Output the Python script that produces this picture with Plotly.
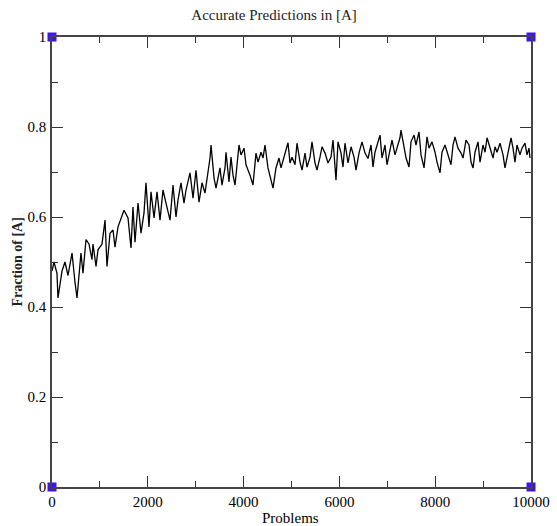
import plotly.graph_objects as go

# Problems (x) and fraction of [A] (y)
problems = [0, 42, 104, 125, 209, 271, 334, 418, 480, 522, 605, 647, 710, 772, 835, 856, 919, 960,
            1044, 1107, 1148, 1211, 1274, 1315, 1378, 1462, 1503, 1587, 1649, 1691, 1733, 1796,
            1858, 1921, 1962, 2025, 2067, 2130, 2192, 2255, 2317, 2380, 2464, 2526, 2589, 2631,
            2693, 2756, 2798, 2881, 2944, 3006, 3069, 3132, 3194, 3257, 3299, 3320, 3382, 3424,
            3507, 3549, 3612, 3633, 3695, 3737, 3779, 3821, 3904, 3946, 4009, 4050, 4134, 4196,
            4259, 4301, 4363, 4405, 4447, 4509, 4572, 4614, 4676, 4739, 4781, 4864, 4927, 4969,
            5011, 5073, 5115, 5178, 5220, 5282, 5324, 5387, 5428, 5491, 5532, 5595, 5637, 5700,
            5762, 5825, 5867, 5929, 5971, 6034, 6075, 6117, 6180, 6243, 6305, 6347, 6409, 6472,
            6535, 6597, 6660, 6701, 6743, 6806, 6848, 6890, 6952, 6994, 7056, 7098, 7161, 7203,
            7265, 7286, 7349, 7391, 7453, 7495, 7558, 7599, 7662, 7704, 7767, 7829, 7871, 7934,
            7996, 8038, 8100, 8142, 8205, 8267, 8330, 8372, 8413, 8476, 8539, 8581, 8643, 8706,
            8748, 8790, 8831, 8894, 8936, 8998, 9040, 9082, 9144, 9207, 9249, 9291, 9353, 9416,
            9457, 9520, 9583, 9624, 9666, 9708, 9770, 9812, 9875, 9916, 9958, 9979]
fraction = [0.48, 0.50, 0.475, 0.42, 0.48, 0.50, 0.47, 0.52, 0.455, 0.42, 0.52, 0.475, 0.55, 0.54,
            0.505, 0.54, 0.49, 0.527, 0.54, 0.593, 0.49, 0.564, 0.571, 0.533, 0.578, 0.60, 0.615,
            0.598, 0.531, 0.622, 0.544, 0.631, 0.564, 0.609, 0.676, 0.578, 0.656, 0.598, 0.656,
            0.593, 0.66, 0.631, 0.593, 0.671, 0.60, 0.638, 0.676, 0.631, 0.66, 0.698, 0.642,
            0.704, 0.633, 0.676, 0.653, 0.70, 0.731, 0.76, 0.687, 0.664, 0.709, 0.671, 0.709,
            0.744, 0.678, 0.733, 0.693, 0.671, 0.76, 0.738, 0.753, 0.716, 0.693, 0.671, 0.742,
            0.722, 0.744, 0.731, 0.76, 0.709, 0.682, 0.664, 0.709, 0.731, 0.709, 0.738, 0.765,
            0.72, 0.733, 0.716, 0.764, 0.722, 0.704, 0.742, 0.711, 0.733, 0.767, 0.72, 0.704,
            0.733, 0.756, 0.742, 0.72, 0.733, 0.771, 0.682, 0.767, 0.742, 0.711, 0.764, 0.72,
            0.756, 0.733, 0.704, 0.742, 0.767, 0.742, 0.73, 0.76, 0.711, 0.744, 0.767, 0.782,
            0.731, 0.76, 0.716, 0.753, 0.771, 0.738, 0.753, 0.776, 0.793, 0.753, 0.731, 0.711,
            0.767, 0.782, 0.76, 0.789, 0.738, 0.709, 0.778, 0.753, 0.767, 0.744, 0.722, 0.698,
            0.744, 0.76, 0.738, 0.716, 0.76, 0.778, 0.753, 0.742, 0.731, 0.771, 0.76, 0.722,
            0.709, 0.744, 0.767, 0.722, 0.76, 0.744, 0.776, 0.753, 0.731, 0.756, 0.744, 0.764,
            0.738, 0.709, 0.744, 0.776, 0.753, 0.722, 0.76, 0.738, 0.753, 0.764, 0.738, 0.753,
            0.731]

corner_x = [0, 0, 10000, 10000]
corner_y = [0, 1, 0, 1]

x_ticks = [0, 2000, 4000, 6000, 8000, 10000]
x_labels = ["0", "2000", "4000", "6000", "8000", "10000"]
y_ticks = [0, 0.2, 0.4, 0.6, 0.8, 1]
y_labels = ["0", "0.2", "0.4", "0.6", "0.8", "1"]

serif = "Liberation Serif, Times New Roman, serif"

fig = go.Figure()
fig.add_trace(go.Scatter(x=problems, y=fraction, mode="lines",
                         line=dict(color="black", width=1.3), showlegend=False))
fig.add_trace(go.Scatter(x=corner_x, y=corner_y, mode="markers",
                         marker=dict(symbol="square", size=9, color="#4010ff"),
                         cliponaxis=False, showlegend=False))

axis_common = dict(showgrid=False, zeroline=False, showline=True, linecolor="#444",
                   linewidth=1.5, mirror="allticks", ticks="inside", ticklen=11,
                   tickwidth=1.2, tickcolor="#333", automargin=False,
                   tickfont=dict(family=serif, size=15, color="black"))

fig.update_layout(
    width=557, height=526,
    margin=dict(l=52, r=26, t=37, b=39),
    paper_bgcolor="white", plot_bgcolor="white",
    title=dict(text="Accurate Predictions in [A]", x=0.492, xanchor="center",
               y=0.972, yanchor="middle",
               font=dict(family=serif, size=15, color="#222")),
    xaxis=dict(range=[0, 10000], tickvals=x_ticks, ticktext=x_labels,
               minor=dict(tickvals=[1000, 3000, 5000, 7000, 9000], ticks="inside",
                          ticklen=6, tickcolor="#333", tickwidth=1.2),
               **axis_common),
    yaxis=dict(range=[0, 1], tickvals=y_ticks, ticktext=y_labels,
               minor=dict(tickvals=[0.1, 0.3, 0.5, 0.7, 0.9], ticks="inside",
                          ticklen=6, tickcolor="#333", tickwidth=1.2),
               ticklabelstandoff=1,
               **axis_common),
    annotations=[
        dict(text="Problems", xref="paper", yref="paper", x=0.498, y=-0.069,
             xanchor="center", yanchor="middle", showarrow=False,
             font=dict(family=serif, size=15, color="black")),
        dict(text="<b>Fraction of [A]</b>", xref="paper", yref="paper", x=-0.074, y=0.5,
             xanchor="center", yanchor="middle", textangle=-90, showarrow=False,
             font=dict(family=serif, size=14, color="#222")),
    ],
)

fig.write_html("out.html")
